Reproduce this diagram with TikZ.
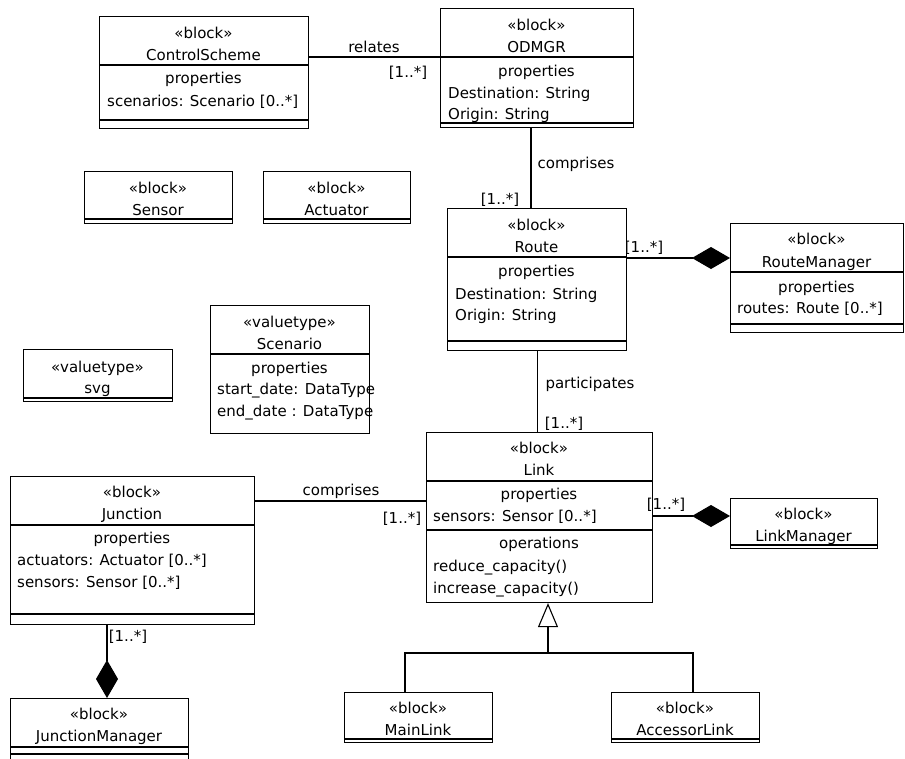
\documentclass[tikz,border=0pt]{standalone}
\usepackage{fontspec}
\setmainfont{DejaVu Sans}
\usetikzlibrary{arrows.meta}
\tikzset{
  blk/.style={draw, line width=1.1pt, anchor=north west, inner sep=0pt},
  sep/.style={line width=1.1pt},
  ctr/.style={anchor=base, inner sep=0pt},
  lft/.style={anchor=base west, inner sep=0pt},
  comp/.style={line width=1.1pt, -{Diamond[length=38pt,width=22pt]}},
}
\begin{document}
\begin{tikzpicture}[x=1pt, y=-1pt, font=\fontsize{15}{18}\selectfont]
\fill[white] (0,0) rectangle (905,758);
\useasboundingbox (0,0) rectangle (905,758);

% ControlScheme
\node[blk, minimum width=209pt, minimum height=112pt] (cs) at (99,16) {};
\draw[sep] (cs.west |- 0,65) -- (cs.east |- 0,65);
\draw[sep] (cs.west |- 0,120) -- (cs.east |- 0,120);
\node[ctr] (csS) at (203.5,38) {«block»};
\node[ctr] (csN) at (203.5,60) {ControlScheme};
\node[ctr] (csP) at (203.5,83) {properties};
\node[lft] (csA) at (107,106) {scenarios: Scenario [0..*]};

% ODMGR
\node[blk, minimum width=193pt, minimum height=119pt] (odmgr) at (440,8) {};
\draw[sep] (odmgr.west |- 0,57) -- (odmgr.east |- 0,57);
\draw[sep] (odmgr.west |- 0,123) -- (odmgr.east |- 0,123);
\node[ctr] (odS) at (536.5,30) {«block»};
\node[ctr] (odN) at (536.5,52) {ODMGR};
\node[ctr] (odP) at (536.5,76) {properties};
\node[lft] (odA) at (448,98) {Destination: String};
\node[lft] (odB) at (448,119) {Origin: String};

% Sensor, Actuator
\node[blk, minimum width=148pt, minimum height=52pt] (sensor) at (84,171) {};
\draw[sep] (sensor.west |- 0,219) -- (sensor.east |- 0,219);
\node[ctr] (seS) at (158,193) {«block»};
\node[ctr] (seN) at (158,215) {Sensor};
\node[blk, minimum width=147pt, minimum height=52pt] (actuator) at (263,171) {};
\draw[sep] (actuator.west |- 0,219) -- (actuator.east |- 0,219);
\node[ctr] (acS) at (336.5,193) {«block»};
\node[ctr] (acN) at (336.5,215) {Actuator};

% Route
\node[blk, minimum width=179pt, minimum height=142pt] (route) at (447,208) {};
\draw[sep] (route.west |- 0,257) -- (route.east |- 0,257);
\draw[sep] (route.west |- 0,341) -- (route.east |- 0,341);
\node[ctr] (roS) at (536.5,230) {«block»};
\node[ctr] (roN) at (536.5,252) {Route};
\node[ctr] (roP) at (536.5,276) {properties};
\node[lft] (roA) at (455,299) {Destination: String};
\node[lft] (roB) at (455,320) {Origin: String};

% RouteManager
\node[blk, minimum width=173pt, minimum height=109pt] (rmgr) at (730,223) {};
\draw[sep] (rmgr.west |- 0,272) -- (rmgr.east |- 0,272);
\draw[sep] (rmgr.west |- 0,324) -- (rmgr.east |- 0,324);
\node[ctr] (rmS) at (816.5,244) {«block»};
\node[ctr] (rmN) at (816.5,267) {RouteManager};
\node[ctr] (rmP) at (816.5,292) {properties};
\node[lft] (rmA) at (737,313) {routes: Route [0..*]};

% svg, Scenario
\node[blk, minimum width=149pt, minimum height=52pt] (svg) at (23,349) {};
\draw[sep] (svg.west |- 0,398) -- (svg.east |- 0,398);
\node[ctr] (svS) at (97.5,372) {«valuetype»};
\node[ctr] (svN) at (97.5,393) {svg};
\node[blk, minimum width=159pt, minimum height=128pt] (scen) at (210,305) {};
\draw[sep] (scen.west |- 0,354) -- (scen.east |- 0,354);
\node[ctr] (scS) at (289.5,327) {«valuetype»};
\node[ctr] (scN) at (289.5,349) {Scenario};
\node[ctr] (scP) at (289.5,373) {properties};
\node[lft] (scA) at (217,394) {start\_date: DataType};
\node[lft] (scB) at (217,416) {end\_date : DataType};

% Link
\node[blk, minimum width=226pt, minimum height=170pt] (link) at (426,432) {};
\draw[sep] (link.west |- 0,481) -- (link.east |- 0,481);
\draw[sep] (link.west |- 0,530) -- (link.east |- 0,530);
\node[ctr] (liS) at (539,453) {«block»};
\node[ctr] (liN) at (539,475) {Link};
\node[ctr] (liP) at (539,499) {properties};
\node[lft] (liA) at (433,521) {sensors: Sensor [0..*]};
\node[ctr] (liO) at (539,548) {operations};
\node[lft] (liB) at (433,571) {reduce\_capacity()};
\node[lft] (liC) at (433,593) {increase\_capacity()};

% LinkManager
\node[blk, minimum width=147pt, minimum height=50pt] (lmgr) at (730,498) {};
\draw[sep] (lmgr.west |- 0,545) -- (lmgr.east |- 0,545);
\node[ctr] (lmS) at (803.5,519) {«block»};
\node[ctr] (lmN) at (803.5,541) {LinkManager};

% Junction
\node[blk, minimum width=244pt, minimum height=148pt] (junc) at (10,476) {};
\draw[sep] (junc.west |- 0,525) -- (junc.east |- 0,525);
\draw[sep] (junc.west |- 0,614) -- (junc.east |- 0,614);
\node[ctr] (juS) at (132,497) {«block»};
\node[ctr] (juN) at (132,519) {Junction};
\node[ctr] (juP) at (132,543) {properties};
\node[lft] (juA) at (17,565) {actuators: Actuator [0..*]};
\node[lft] (juB) at (17,587) {sensors: Sensor [0..*]};

% JunctionManager
\node[blk, minimum width=178pt, minimum height=62pt] (jmgr) at (10,698) {};
\draw[sep] (jmgr.west |- 0,747) -- (jmgr.east |- 0,747);
\draw[sep] (jmgr.west |- 0,754) -- (jmgr.east |- 0,754);
\node[ctr] (jmS) at (99,719) {«block»};
\node[ctr] (jmN) at (99,741) {JunctionManager};

% MainLink, AccessorLink
\node[blk, minimum width=148pt, minimum height=50pt] (mainl) at (344,692) {};
\draw[sep] (mainl.west |- 0,739) -- (mainl.east |- 0,739);
\node[ctr] (mlS) at (418,713) {«block»};
\node[ctr] (mlN) at (418,735) {MainLink};
\node[blk, minimum width=148pt, minimum height=50pt] (accl) at (611,692) {};
\draw[sep] (accl.west |- 0,739) -- (accl.east |- 0,739);
\node[ctr] (alS) at (685,713) {«block»};
\node[ctr] (alN) at (685,735) {AccessorLink};

% connectors
\draw[sep] (cs.east |- 0,57) -- (odmgr.west |- 0,57);
\node[ctr] (relL) at (374,52) {relates};
\node[ctr] (relM) at (408,77) {[1..*]};

\draw[sep] (odmgr.south -| 531,0) -- (route.north -| 531,0);
\node[ctr] (cmpL) at (576,168) {comprises};
\node[ctr] (cmpM) at (500,204) {[1..*]};

\draw[comp] (route.east |- 0,258) -- (rmgr.west |- 0,258);
\node[ctr] (rmM) at (644,252) {[1..*]};

\draw[sep] (route.south) -- (route.south |- link.north);
\node[ctr] (parL) at (590,388) {participates};
\node[ctr] (parM) at (564,428) {[1..*]};

\draw[comp] (link.east |- 0,516) -- (lmgr.west |- 0,516);
\node[ctr] (lmM) at (666,509) {[1..*]};

\draw[sep] (junc.east |- 0,501) -- (link.west |- 0,501);
\node[ctr] (jlL) at (341,495) {comprises};
\node[ctr] (jlM) at (402,523) {[1..*]};

\draw[comp] (junc.south -| 107,0) -- (jmgr.north -| 107,0);
\node[ctr] (jmM) at (128,641) {[1..*]};

% generalization
\coordinate (gen) at (548,653);
\draw[line width=2pt, -{Triangle[length=24pt, width=20pt, line width=1.1pt, fill=white]}] (gen) -- (link.south -| gen);
\draw[sep] (mainl.north -| 405,0) |- (gen) -| (accl.north -| 693,0);
\end{tikzpicture}
\end{document}
